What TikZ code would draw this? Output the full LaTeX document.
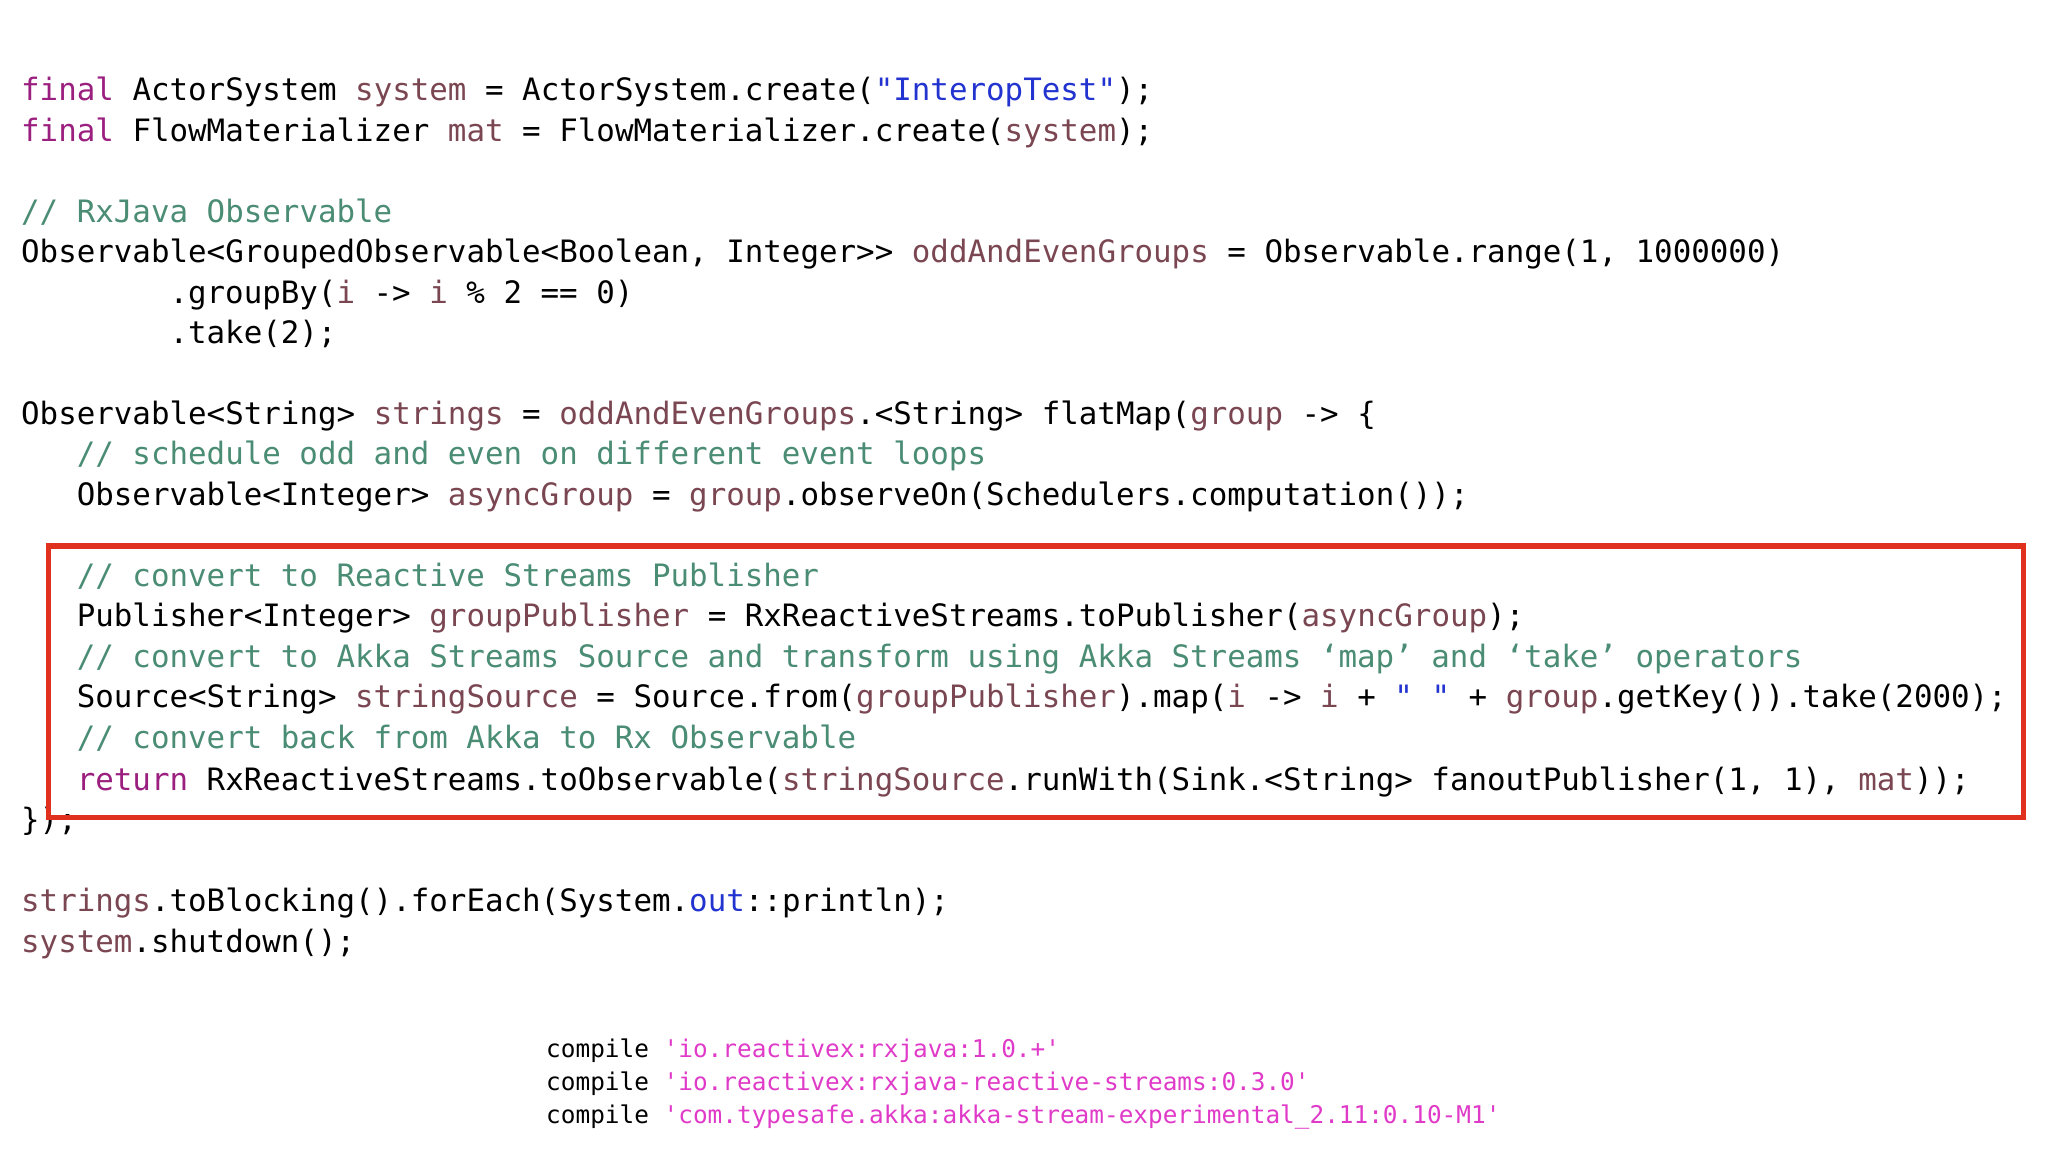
\documentclass[tikz,border=0pt]{standalone}
\usepackage{fontspec}
\setmonofont{DejaVu Sans Mono}
\definecolor{kw}{HTML}{9B1F7E}
\definecolor{vr}{HTML}{7A4652}
\definecolor{cm}{HTML}{4A8C74}
\definecolor{st}{HTML}{2233D0}
\definecolor{pk}{HTML}{E03AC8}
\definecolor{bx}{HTML}{E0301E}
\newcommand{\K}[1]{\textcolor{kw}{#1}}
\newcommand{\V}[1]{\textcolor{vr}{#1}}
\newcommand{\C}[1]{\textcolor{cm}{#1}}
\newcommand{\Sg}[1]{\textcolor{st}{#1}}
\newcommand{\Pk}[1]{\textcolor{pk}{#1}}
\begin{document}
\begin{tikzpicture}[x=1pt,y=-1pt,
  code/.style={anchor=base west,inner sep=0pt,font=\ttfamily\fontsize{23.6}{28}\selectfont},
  dep/.style={anchor=base west,inner sep=0pt,font=\ttfamily\fontsize{18.67}{22}\selectfont}]
\useasboundingbox[fill=white] (0,0) rectangle (1568,882);
\def\b{9}
\node[code] (l1) at (16,68+\b) {\K{final} ActorSystem \V{system} = ActorSystem.create(\Sg{"InteropTest"});};
\node[code] (l2) at (16,99+\b) {\K{final} FlowMaterializer \V{mat} = FlowMaterializer.create(\V{system});};
\node[code] (l3) at (16,161+\b) {\C{// RxJava Observable}};
\node[code] (l4) at (16,192+\b) {Observable<GroupedObservable<Boolean, Integer>{}> \V{oddAndEvenGroups} = Observable.range(1, 1000000)};
\node[code] (l5) at (129.6,223+\b) {.groupBy(\V{i} -> \V{i} \% 2 == 0)};
\node[code] (l6) at (129.6,254+\b) {.take(2);};
\node[code] (l7) at (16,316+\b) {Observable<String> \V{strings} = \V{oddAndEvenGroups}.<String> flatMap(\V{group} -> \{};
\node[code] (l8) at (58.6,347+\b) {\C{// schedule odd and even on different event loops}};
\node[code] (l9) at (58.6,378+\b) {Observable<Integer> \V{asyncGroup} = \V{group}.observeOn(Schedulers.computation());};
\node[code] (l10) at (58.6,440+\b) {\C{// convert to Reactive Streams Publisher}};
\node[code] (l11) at (58.6,471+\b) {Publisher<Integer> \V{groupPublisher} = RxReactiveStreams.toPublisher(\V{asyncGroup});};
\node[code] (l12) at (58.6,502+\b) {\C{// convert to Akka Streams Source and transform using Akka Streams ‘map’ and ‘take’ operators}};
\node[code] (l13) at (58.6,533+\b) {Source<String> \V{stringSource} = Source.from(\V{groupPublisher}).map(\V{i} -> \V{i} + \Sg{"\ "} + \V{group}.getKey()).take(2000);};
\node[code] (l14) at (58.6,564+\b) {\C{// convert back from Akka to Rx Observable}};
\node[code] (l15) at (58.6,596+\b) {\K{return} RxReactiveStreams.toObservable(\V{stringSource}.runWith(Sink.<String> fanoutPublisher(1, 1), \V{mat}));};
\node[code] (l16) at (16,627+\b) {\});};
\node[code] (l17) at (16,689+\b) {\V{strings}.toBlocking().forEach(System.\Sg{out}::println);};
\node[code] (l18) at (16,720+\b) {\V{system}.shutdown();};
\draw[bx,line width=4pt] (37,418) rectangle (1549,626);
\node[dep] (d1) at (418,803+7) {compile \Pk{'io.reactivex:rxjava:1.0.+'}};
\node[dep] (d2) at (418,828+7) {compile \Pk{'io.reactivex:rxjava-reactive-streams:0.3.0'}};
\node[dep] (d3) at (418,853+7) {compile \Pk{'com.typesafe.akka:akka-stream-experimental\_2.11:0.10-M1'}};
\end{tikzpicture}
\end{document}
